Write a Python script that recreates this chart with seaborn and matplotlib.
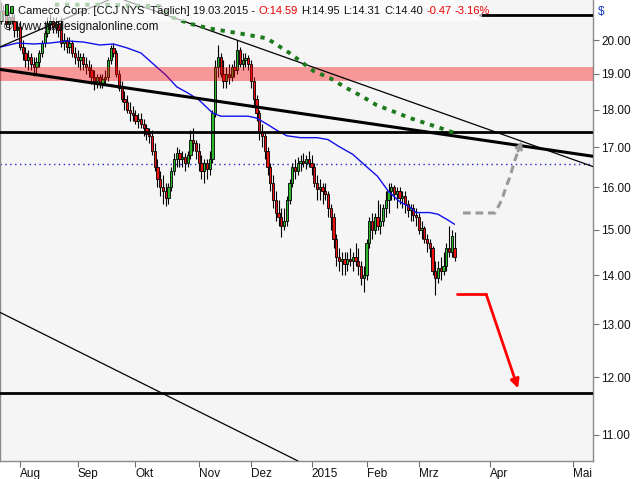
import numpy as np
import pandas as pd
import matplotlib.pyplot as plt
import matplotlib.ticker as mticker
from matplotlib.patches import Rectangle
import seaborn as sns

# daily candles, trading-day index 0 = 23.07.2014, 165 = 19.03.2015
opens = [20.6, 20.9, 20.8, 20.5, 20.7, 20.6, 20.3, 20.4, 19.8, 19.6,
         19.4, 19.5, 19.3, 19.2, 19.35, 19.6, 19.9, 20.2, 20.5, 20.6,
         20.4, 20.5, 20.3, 19.9, 20.0, 19.8, 19.9, 19.6, 19.5, 19.4,
         19.5, 19.3, 19.2, 19.1, 18.9, 18.8, 18.9, 18.75, 18.85, 18.9,
         19.4, 19.75, 19.6, 19.0, 18.6, 18.3, 18.2, 18.0, 17.9, 17.85,
         17.7, 17.75, 17.6, 17.5, 17.35, 17.3, 16.9, 16.5, 16.2, 16.0,
         15.9, 15.75, 16.0, 16.4, 16.7, 16.85, 16.7, 16.75, 16.6, 16.8,
         17.2, 17.1, 16.9, 16.6, 16.4, 16.6, 16.45, 16.7, 17.9, 19.2,
         19.5, 19.0, 18.8, 19.0, 18.9, 19.2, 19.1, 19.7, 19.3, 19.4,
         19.45, 19.3, 18.8, 18.3, 17.9, 17.4, 17.3, 16.9, 16.5, 16.1,
         15.7, 15.4, 15.3, 15.1, 15.2, 15.7, 16.1, 16.5, 16.4, 16.6,
         16.65, 16.6, 16.7, 16.6, 16.5, 16.1, 15.95, 16.0, 15.9, 15.85,
         15.5, 15.3, 14.8, 14.4, 14.3, 14.35, 14.25, 14.35, 14.3, 14.4,
         14.3, 14.2, 13.95, 14.0, 14.7, 15.2, 15.0, 15.3, 15.1, 15.2,
         15.5, 15.7, 15.9, 16.0, 15.85, 15.9, 15.75, 15.8, 15.6, 15.45,
         15.5, 15.35, 15.3, 15.0, 15.05, 14.8, 14.7, 14.6, 14.1, 13.95,
         14.15, 14.1, 14.2, 14.6, 14.5, 14.59]
highs = [21.2, 21.1, 21.0, 20.9, 21.0, 20.8, 20.6, 20.6, 20.0, 19.8,
         19.7, 19.6, 19.5, 19.5, 19.7, 20.0, 20.3, 20.7, 20.8, 20.7,
         20.7, 20.6, 20.7, 20.2, 20.1, 20.1, 20.0, 19.8, 19.7, 19.6,
         19.6, 19.5, 19.4, 19.3, 19.1, 19.0, 19.0, 19.0, 19.1, 19.5,
         19.85, 19.9, 19.7, 19.1, 18.8, 18.5, 18.4, 18.2, 18.1, 18.0,
         17.9, 17.9, 17.75, 17.6, 17.5, 17.45, 17.1, 16.7, 16.4, 16.3,
         16.1, 16.1, 16.5, 16.85, 17.0, 16.95, 16.9, 16.85, 16.9, 17.45,
         17.5, 17.2, 17.1, 16.8, 16.7, 16.7, 16.9, 18.0, 19.4, 19.85,
         19.6, 19.4, 19.2, 19.3, 19.3, 19.4, 20.0, 19.8, 19.6, 19.6,
         19.55, 19.4, 18.9, 18.4, 18.0, 17.6, 17.4, 17.0, 16.6, 16.3,
         15.9, 15.7, 15.5, 15.5, 15.8, 16.2, 16.6, 16.7, 16.75, 16.8,
         16.85, 16.8, 16.9, 16.8, 16.6, 16.3, 16.2, 16.1, 16.1, 15.9,
         15.6, 15.4, 14.9, 14.6, 14.5, 14.5, 14.5, 14.6, 14.5, 14.7,
         14.6, 14.3, 14.2, 14.8, 15.3, 15.4, 15.4, 15.7, 15.6, 15.6,
         15.9, 16.1, 16.1, 16.05, 16.0, 16.0, 15.9, 15.9, 15.7, 15.6,
         15.6, 15.5, 15.4, 15.2, 15.1, 14.9, 14.8, 14.65, 14.3, 14.3,
         14.4, 14.5, 14.7, 15.1, 15.0, 14.95]
lows = [20.5, 20.6, 20.4, 20.3, 20.5, 20.1, 20.1, 19.7, 19.4, 19.2,
        19.1, 19.1, 18.95, 19.0, 19.2, 19.5, 19.8, 20.1, 20.3, 20.2,
        20.2, 20.1, 19.8, 19.7, 19.6, 19.6, 19.5, 19.3, 19.2, 19.1,
        19.1, 19.0, 18.9, 18.7, 18.55, 18.6, 18.6, 18.6, 18.7, 18.8,
        19.3, 19.5, 18.9, 18.5, 18.2, 18.0, 17.9, 17.7, 17.7, 17.6,
        17.5, 17.5, 17.3, 17.2, 17.1, 16.8, 16.4, 16.0, 15.8, 15.6,
        15.55, 15.6, 15.9, 16.3, 16.5, 16.5, 16.5, 16.4, 16.5, 16.7,
        16.9, 16.7, 16.4, 16.2, 16.1, 16.2, 16.3, 16.6, 17.8, 18.9,
        18.9, 18.6, 18.6, 18.7, 18.8, 18.9, 19.0, 19.2, 19.1, 19.2,
        19.1, 18.6, 18.1, 17.7, 17.2, 17.0, 16.7, 16.3, 15.9, 15.5,
        15.2, 15.1, 14.85, 15.0, 15.1, 15.6, 16.0, 16.2, 16.3, 16.4,
        16.5, 16.45, 16.5, 16.3, 16.0, 15.7, 15.7, 15.6, 15.7, 15.3,
        15.0, 14.6, 14.2, 14.1, 14.0, 14.0, 14.1, 14.2, 14.1, 14.2,
        14.0, 13.8, 13.65, 13.9, 14.6, 14.8, 14.9, 15.0, 14.9, 15.1,
        15.3, 15.4, 15.7, 15.7, 15.5, 15.6, 15.5, 15.4, 15.3, 15.2,
        15.2, 15.1, 14.9, 14.8, 14.7, 14.5, 14.4, 14.0, 13.6, 13.85,
        13.9, 14.0, 14.1, 14.4, 14.4, 14.31]
closes = [20.9, 20.8, 20.5, 20.7, 20.6, 20.3, 20.4, 19.8, 19.6, 19.4,
          19.5, 19.3, 19.2, 19.35, 19.6, 19.9, 20.2, 20.5, 20.6, 20.4,
          20.5, 20.3, 19.9, 20.0, 19.8, 19.9, 19.6, 19.5, 19.4, 19.5,
          19.3, 19.2, 19.1, 18.9, 18.8, 18.9, 18.75, 18.85, 18.9, 19.4,
          19.75, 19.6, 19.0, 18.6, 18.3, 18.2, 18.0, 17.9, 17.85, 17.7,
          17.75, 17.6, 17.5, 17.35, 17.3, 16.9, 16.5, 16.2, 16.0, 15.9,
          15.75, 16.0, 16.4, 16.7, 16.85, 16.7, 16.75, 16.6, 16.8, 17.2,
          17.1, 16.9, 16.6, 16.4, 16.6, 16.45, 16.7, 17.9, 19.2, 19.5,
          19.0, 18.8, 19.0, 18.9, 19.2, 19.1, 19.7, 19.3, 19.4, 19.45,
          19.3, 18.8, 18.3, 17.9, 17.4, 17.3, 16.9, 16.5, 16.1, 15.7,
          15.4, 15.3, 15.1, 15.2, 15.7, 16.1, 16.5, 16.4, 16.6, 16.65,
          16.6, 16.7, 16.6, 16.5, 16.1, 15.95, 16.0, 15.9, 15.85, 15.5,
          15.3, 14.8, 14.4, 14.3, 14.35, 14.25, 14.35, 14.3, 14.4, 14.3,
          14.2, 13.95, 14.0, 14.7, 15.2, 15.0, 15.3, 15.1, 15.2, 15.5,
          15.7, 15.9, 16.0, 15.85, 15.9, 15.75, 15.8, 15.6, 15.45, 15.5,
          15.35, 15.3, 15.0, 15.05, 14.8, 14.7, 14.6, 14.1, 13.95, 14.15,
          14.1, 14.2, 14.6, 14.5, 14.87, 14.40]

# moving average (blue)
ma_x = [0, 6, 12, 18, 24, 30, 36, 41, 46, 51, 55, 60, 64, 68, 72, 77, 80, 90,
        93, 97, 100, 104, 109, 115, 119, 123, 128, 132, 137, 141, 145, 149,
        151, 156, 159, 162, 165]
ma_y = [19.79, 19.91, 19.88, 19.91, 19.97, 19.94, 19.85, 19.88, 19.76, 19.61,
        19.32, 18.97, 18.63, 18.46, 18.27, 17.91, 17.82, 17.82, 17.77, 17.60,
        17.46, 17.30, 17.25, 17.25, 17.20, 17.02, 16.82, 16.57, 16.27, 15.90,
        15.66, 15.52, 15.40, 15.40, 15.36, 15.25, 15.13]

# drawn objects (index, price)
trend_thick_x = [-0.3, 215.4]
trend_thick_y = [19.13, 16.77]
trend_thin_x = [44.8, 215.4]
trend_thin_y = [21.25, 16.51]
trend_up_x = [-0.3, 39.7]
trend_up_y = [19.79, 21.27]
trend_low_x = [-0.3, 108.1]
trend_low_y = [13.24, 10.57]
hlines_thick = [17.40, 11.71]
top_line = 20.77
dotted_level = 16.58
band = (18.80, 19.21)
green_x = [19.7, 36.1, 58.0, 62.3, 68.8, 76.1, 87.0, 96.8, 105.2, 113.6,
           119.7, 125.2, 131.0, 136.5, 142.7, 148.8, 154.6, 160.8, 165.2]
green_y = [21.1, 21.1, 21.05, 20.7, 20.5, 20.35, 20.2, 20.05, 19.6, 19.09,
           18.88, 18.62, 18.38, 18.13, 17.95, 17.77, 17.63, 17.48, 17.37]
gray_x = [168.1, 179.7, 182.3, 183.7, 185.2, 186.6, 188.1, 189.5]
gray_y = [15.39, 15.39, 15.71, 16.01, 16.26, 16.60, 16.90, 17.16]
red_x = [166.0, 176.5, 188.1]
red_y = [13.61, 13.61, 11.80]

month_pos = [7, 28, 49, 72, 91, 113, 133, 152, 178, 208]
month_lab = ['Aug', 'Sep', 'Okt', 'Nov', 'Dez', '2015', 'Feb', 'Mrz', 'Apr', 'Mai']
price_ticks = [11, 12, 13, 14, 15, 16, 17, 18, 19, 20]

df = pd.DataFrame({'open': opens, 'high': highs, 'low': lows, 'close': closes})
df['idx'] = np.arange(len(df))
df['bottom'] = df[['open', 'close']].min(axis=1)
df['body'] = (df['open'] - df['close']).abs().clip(lower=0.02)
df['color'] = np.where(df['close'] >= df['open'], '#2cb82c', '#f01010')

sns.set_theme(style='white')
plt.rcParams['font.family'] = ['Liberation Sans', 'DejaVu Sans']

W, H = 632, 479
fig = plt.figure(figsize=(W / 100, H / 100), dpi=100)
ax = fig.add_axes([0, 18 / H, 593 / W, 461 / H])
ax.set_facecolor('#f5f5f5')
ax.set_yscale('log')

# candles
ax.vlines(df['idx'], df['low'], df['high'], color='black', lw=0.8, zorder=2)
ax.bar(df['idx'], df['body'], bottom=df['bottom'], width=0.75,
       color=df['color'], edgecolor='black', linewidth=0.6, zorder=3)

sns.lineplot(x=ma_x, y=ma_y, ax=ax, color='#1010ee', lw=1, zorder=4)

ax.axhspan(*band, color='#ff0000', alpha=0.38, lw=0, zorder=5)
ax.axhline(dotted_level, color='#2020cc', lw=1, ls=(0, (1, 2.5)), zorder=1)
for lvl in hlines_thick:
    ax.axhline(lvl, color='black', lw=2, zorder=6)
ax.plot([174.3, 215.4], [top_line, top_line], color='black', lw=2, zorder=6)
ax.plot(trend_thick_x, trend_thick_y, color='black', lw=2.2, zorder=6)
ax.plot(trend_thin_x, trend_thin_y, color='black', lw=0.9, zorder=6)
ax.plot(trend_up_x, trend_up_y, color='black', lw=0.9, zorder=6)
ax.plot(trend_low_x, trend_low_y, color='black', lw=0.9, zorder=6)
ax.plot(green_x, green_y, color='#1e7a1e', lw=2.8, ls=(0, (1.1, 1.5)), zorder=6)

ax.plot(gray_x[:-1], gray_y[:-1], color='#999999', lw=2.2, ls=(0, (2.5, 1.6)), zorder=6)
ax.annotate('', xy=(gray_x[-1], gray_y[-1]), xytext=(gray_x[-2], gray_y[-2]),
            arrowprops=dict(arrowstyle='->', color='#999999', lw=2,
                            shrinkA=0, shrinkB=0, mutation_scale=10), zorder=6)
ax.plot(red_x[:-1], red_y[:-1], color='#ff0000', lw=2, zorder=6)
ax.annotate('', xy=(red_x[-1], red_y[-1]), xytext=(red_x[-2], red_y[-2]),
            arrowprops=dict(arrowstyle='-|>', color='#ff0000', lw=2,
                            shrinkA=0, shrinkB=0, mutation_scale=13), zorder=6)

ax.set_xlim(-0.27, 215.36)
ax.set_ylim(10.57, 21.25)

ax.yaxis.tick_right()
ax.set_yticks(price_ticks)
ax.yaxis.set_major_formatter(mticker.FuncFormatter(lambda v, p: f'{v:.2f}'))
ax.yaxis.set_minor_locator(mticker.NullLocator())
ax.set_xticks(month_pos)
ax.set_xticklabels(month_lab)
for t in ax.get_xticklabels():
    t.set_ha('left')
ax.tick_params(axis='y', which='major', right=True, length=4, width=0.8,
               color='#707070', labelsize=8.5, pad=2, labelcolor='#111111')
ax.tick_params(axis='x', which='major', bottom=True, length=4, width=0.8,
               color='#707070', labelsize=8.5, pad=1, labelcolor='#111111')
for s in ['left', 'right', 'bottom']:
    ax.spines[s].set_color('#8a8a8a')
    ax.spines[s].set_linewidth(1)
ax.spines['top'].set_visible(False)
ax.set_xlabel('')
ax.set_ylabel('')

fig.text(598 / W, 1 - 12 / H, '$', color='#1a3fbf', fontsize=8.5, va='center')

# header box and title
fig.patches.append(Rectangle((0, 1 - 21 / H), 482 / W, 21 / H, transform=fig.transFigure,
                             facecolor='white', alpha=0.65, lw=0, zorder=5))
for cx, top, bot in [(6, 4, 15), (12, 6, 13)]:
    fig.patches.append(Rectangle(((cx - 1.5) / W, 1 - bot / H), 3 / W, (bot - top) / H,
                                 transform=fig.transFigure, facecolor='#2cb82c',
                                 edgecolor='black', lw=0.6, zorder=6))
title_parts = [('Cameco Corp. [CCJ NYS  Täglich] 19.03.2015 -', '#111111'),
               ('O:14.59', '#ee0000'), ('H:14.95', '#111111'),
               ('L:14.31', '#111111'), ('C:14.40', '#111111'),
               ('-0.47', '#ee0000'), ('-3.16%', '#ee0000')]
renderer = fig.canvas.get_renderer()
px = 18
for txt, col in title_parts:
    t = fig.text(px / W, 1 - 11 / H, txt, color=col, fontsize=8, va='center', zorder=7)
    px = t.get_window_extent(renderer).x1 + 3.5
fig.text(4 / W, 1 - 27 / H, '© www.tradesignalonline.com', color='#111111',
         fontsize=8.5, va='center', zorder=7)

fig.savefig('out.png', dpi=100)
